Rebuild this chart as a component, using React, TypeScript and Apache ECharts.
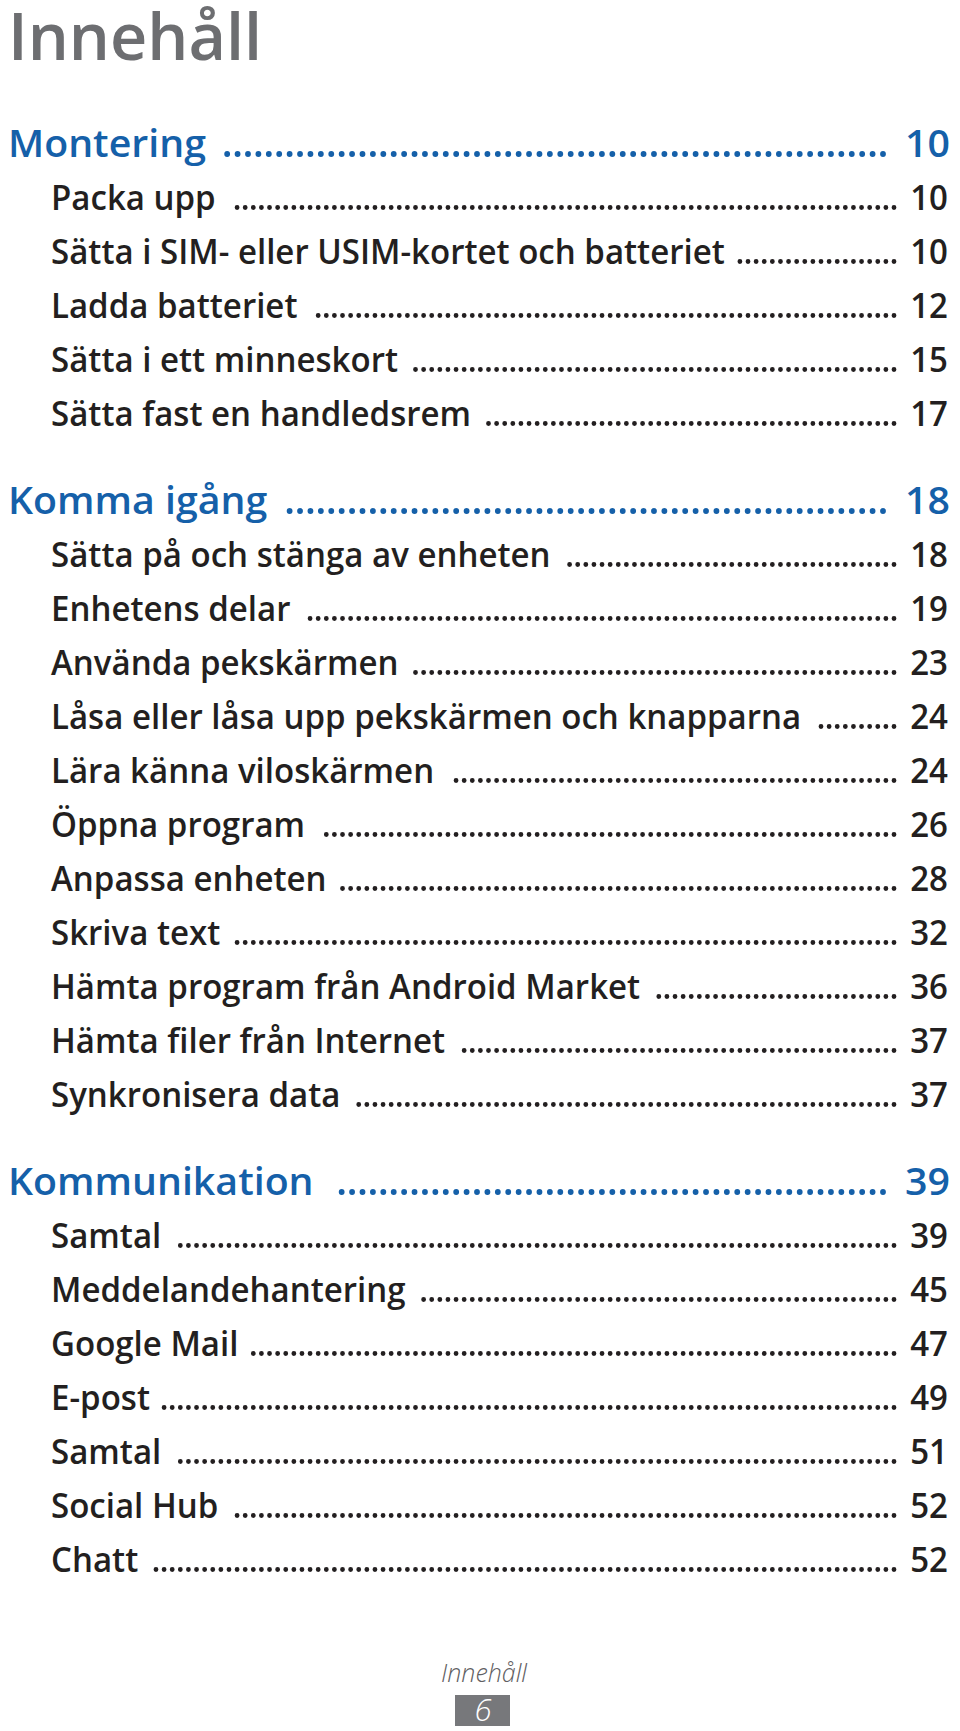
import React, { useEffect, useRef } from "react";
import * as echarts from "echarts";

const PAGE_TITLE = "Innehåll";
const SECTION_TITLES = ["Montering", "Komma igång", "Kommunikation"];
const SECTION_PAGES = ["10", "18", "39"];
const MONTERING_ITEMS = [
  "Packa upp",
  "Sätta i SIM- eller USIM-kortet och batteriet",
  "Ladda batteriet",
  "Sätta i ett minneskort",
  "Sätta fast en handledsrem",
];
const MONTERING_PAGES = ["10", "10", "12", "15", "17"];
const KOMMA_ITEMS = [
  "Sätta på och stänga av enheten",
  "Enhetens delar",
  "Använda pekskärmen",
  "Låsa eller låsa upp pekskärmen och knapparna",
  "Lära känna viloskärmen",
  "Öppna program",
  "Anpassa enheten",
  "Skriva text",
  "Hämta program från Android Market",
  "Hämta filer från Internet",
  "Synkronisera data",
];
const KOMMA_PAGES = ["18", "19", "23", "24", "24", "26", "28", "32", "36", "37", "37"];
const KOMMUNIKATION_ITEMS = [
  "Samtal",
  "Meddelandehantering",
  "Google Mail",
  "E-post",
  "Samtal",
  "Social Hub",
  "Chatt",
];
const KOMMUNIKATION_PAGES = ["39", "45", "47", "49", "51", "52", "52"];
const FOOTER_LABEL = "Innehåll";
const PAGE_NUMBER = "6";

const FONT = '"Open Sans", "Noto Sans", sans-serif';
const BLUE = "#1560a9";
const DARK = "#231f20";
const GRAY = "#6d6e71";

function measure(text: string, font: string): number {
  const c = document.createElement("canvas").getContext("2d");
  if (!c) return text.length * 15;
  c.font = font;
  return c.measureText(text).width;
}

export default function App() {
  const ref = useRef<HTMLDivElement>(null);
  useEffect(() => {
    if (!ref.current) return;
    const chart = echarts.init(ref.current, undefined, { renderer: "svg" });

    const HEAD_FS = 38;
    const SUB_FS = 34;
    const TITLE_FS = 66;
    const headFont = `600 ${HEAD_FS}px ${FONT}`;
    const subFont = `600 ${SUB_FS}px ${FONT}`;
    const titleFont = `600 ${TITLE_FS}px ${FONT}`;
    const headScale = 198 / measure("Montering", headFont);
    const subScale = 674 / measure(MONTERING_ITEMS[1], subFont);
    const titleScale = 254 / measure(PAGE_TITLE, titleFont);
    const CENTRAL = 0.388;

    const sections = [
      { items: MONTERING_ITEMS, pages: MONTERING_PAGES },
      { items: KOMMA_ITEMS, pages: KOMMA_PAGES },
      { items: KOMMUNIKATION_ITEMS, pages: KOMMUNIKATION_PAGES },
    ];

    const elements: any[] = [];
    elements.push({
      type: "rect",
      shape: { x: 0, y: 0, width: 960, height: 1731 },
      style: { fill: "#ffffff" },
      z: 0,
    });
    // Page title
    elements.push({
      type: "text",
      x: 8,
      y: 60 - CENTRAL * TITLE_FS,
      scaleX: titleScale,
      style: {
        text: PAGE_TITLE,
        font: titleFont,
        fill: GRAY,
        align: "left",
        verticalAlign: "middle",
        lineHeight: 58,
      },
      z: 2,
    });

    const addRow = (label: string, page: string, head: boolean, baseline: number) => {
      const fs = head ? HEAD_FS : SUB_FS;
      const font = head ? headFont : subFont;
      const scale = head ? headScale : subScale;
      const x0 = head ? 8 : 51;
      const color = head ? BLUE : DARK;
      const yMid = baseline - CENTRAL * fs;
      const textW = measure(label, font) * scale;
      elements.push({
        type: "text",
        x: x0,
        y: yMid,
        scaleX: scale,
        style: { text: label, font, fill: color, align: "left", verticalAlign: "middle" },
        z: 2,
      });
      elements.push({
        type: "text",
        x: head ? 950 : 948,
        y: yMid,
        scaleX: scale,
        style: { text: page, font, fill: color, align: "right", verticalAlign: "middle" },
        z: 2,
      });
      const dotEnd = head ? 883 : 894;
      const dotStart = x0 + textW + (head ? 18 : 14);
      const step = head ? 10.4 : 8.1;
      const dy = baseline - (head ? 3 : 2.5);
      elements.push({
        type: "line",
        shape: { x1: dotEnd, y1: dy, x2: dotStart, y2: dy },
        style: {
          stroke: color,
          lineWidth: head ? 5.8 : 4.8,
          lineCap: "round",
          lineDash: [0.01, step],
        },
        z: 2,
      });
    };

    let y = 157;
    sections.forEach((sec, i) => {
      addRow(SECTION_TITLES[i], SECTION_PAGES[i], true, y);
      y += 53;
      sec.items.forEach((it, j) => {
        addRow(it, sec.pages[j], false, y);
        y += 54;
      });
      y += 34;
    });

    // Footer
    elements.push({
      type: "text",
      x: 484,
      y: 1682 - CENTRAL * 25,
      style: {
        text: FOOTER_LABEL,
        font: `italic 300 25px ${FONT}`,
        fill: "#5f6062",
        align: "center",
        verticalAlign: "middle",
      },
      z: 2,
    });
    elements.push({
      type: "rect",
      shape: { x: 455, y: 1695, width: 55, height: 31 },
      style: { fill: "#77787b" },
      z: 2,
    });
    elements.push({
      type: "text",
      x: 483,
      y: 1721 - CENTRAL * 31,
      style: {
        text: PAGE_NUMBER,
        font: `italic 300 31px ${FONT}`,
        fill: "#ffffff",
        align: "center",
        verticalAlign: "middle",
      },
      z: 3,
    });

    chart.setOption({
      animation: false,
      backgroundColor: "#ffffff",
      graphic: { elements },
    });
    return () => chart.dispose();
  }, []);
  return (
    <div
      ref={ref}
      style={{ position: "fixed", left: 0, top: 0, width: 960, height: 1731, background: "#fff" }}
    />
  );
}
